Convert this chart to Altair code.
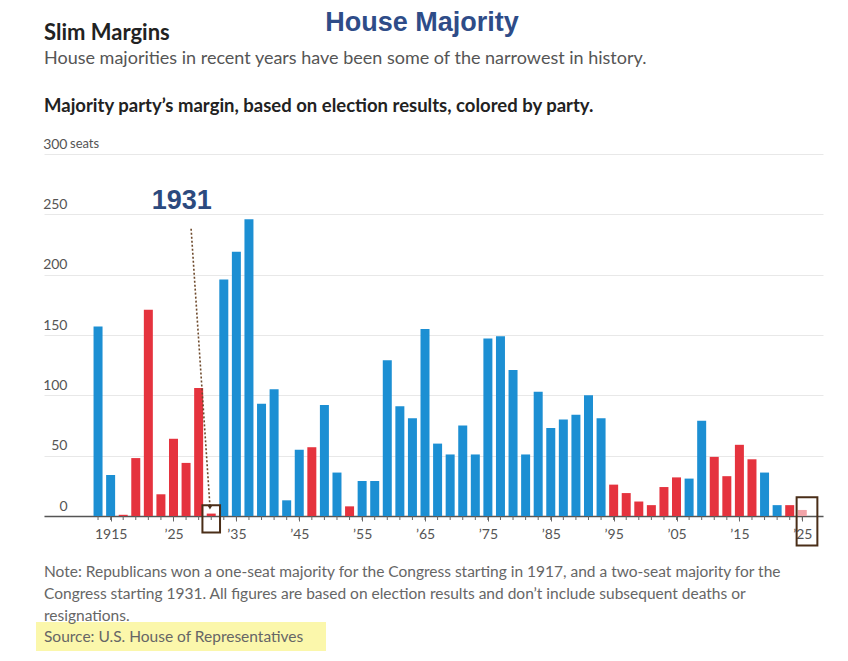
import altair as alt
import pandas as pd

# ---------------- data ----------------
years = [1913, 1915, 1917, 1919, 1921, 1923, 1925, 1927, 1929, 1931,
         1933, 1935, 1937, 1939, 1941, 1943, 1945, 1947, 1949, 1951,
         1953, 1955, 1957, 1959, 1961, 1963, 1965, 1967, 1969, 1971,
         1973, 1975, 1977, 1979, 1981, 1983, 1985, 1987, 1989, 1991,
         1993, 1995, 1997, 1999, 2001, 2003, 2005, 2007, 2009, 2011,
         2013, 2015, 2017, 2019, 2021, 2023, 2025]
margins = [157, 34, 1, 48, 171, 18, 64, 44, 106, 2,
           196, 219, 246, 93, 105, 13, 55, 57, 92, 36,
           8, 29, 29, 129, 91, 81, 155, 60, 51, 75,
           51, 147, 149, 121, 51, 103, 73, 80, 84, 100,
           81, 26, 19, 12, 9, 24, 32, 31, 79, 49,
           33, 59, 47, 36, 9, 9, 5]
party = (["D", "D"] + ["R"] * 8 + ["D"] * 7 + ["R", "D", "D", "R"] + ["D"] * 20
         + ["R"] * 6 + ["D", "D"] + ["R"] * 4 + ["D", "D", "R", "R*"])
party_names = ["D", "R", "R*"]
party_colors = ["#1c8fd3", "#e5333e", "#f2a5aa"]

y_ticks = [0, 50, 100, 150, 200, 250, 300]
x_label_years = [1915, 1925, 1935, 1945, 1955, 1965, 1975, 1985, 1995, 2005, 2015, 2025]

title_main = "House Majority"
title_left = "Slim Margins"
subtitle = "House majorities in recent years have been some of the narrowest in history."
chart_sub = "Majority party\u2019s margin, based on election results, colored by party."
note_lines = [
    "Note: Republicans won a one-seat majority for the Congress starting in 1917, and a two-seat majority for the",
    "Congress starting 1931. All figures are based on election results and don\u2019t include subsequent deaths or",
    "resignations.",
]
source = "Source: U.S. House of Representatives"

df = pd.DataFrame({"year": years, "margin": margins, "party": party})

FONT = "Lato"
W, H = 779, 362

xscale = alt.Scale(domain=[1905.2, 2027.5], nice=False, zero=False)
yscale = alt.Scale(domain=[0, 300], nice=False)

label_expr = "datum.value == 1915 ? '1915' : '\u2019' + substring(toString(datum.value), 2, 4)"

bars = alt.Chart(df).mark_bar(size=9).encode(
    x=alt.X("year:Q", scale=xscale, title=None,
            axis=alt.Axis(values=x_label_years, labelExpr=label_expr, labelOverlap=False,
                          labelFlush=False, tickSize=5, tickColor="#666", tickWidth=1,
                          domainColor="#555", domainWidth=1.5, labelColor="#555",
                          labelFont=FONT, labelFontSize=14, labelPadding=6, grid=False)),
    y=alt.Y("margin:Q", scale=yscale, title=None,
            axis=alt.Axis(values=y_ticks, labelExpr="datum.value == 300 ? '300' : datum.label",
                          labelAlign="right", labelBaseline="bottom", labelPadding=-23,
                          labelOffset=-3, tickSize=0, ticks=False, domain=False,
                          gridColor="#e8e8e8", gridWidth=1, labelColor="#555",
                          labelFont=FONT, labelFontSize=14)),
    color=alt.Color("party:N", scale=alt.Scale(domain=party_names, range=party_colors), legend=None),
)

# small ticks under every bar
minor_ticks = alt.Chart(df).mark_rule(color="#666", strokeWidth=1).encode(
    x=alt.X("year:Q", scale=xscale), y=alt.value(H), y2=alt.value(H + 4))


def one():
    return alt.Chart(alt.Data(values=[{"k": 0}]))


def txt(s, x, y, size, color="#222", weight="normal", font=FONT, align="left", baseline="alphabetic"):
    return one().mark_text(text=s, font=font, fontSize=size, fontWeight=weight, color=color,
                           align=align, baseline=baseline).encode(x=alt.value(x), y=alt.value(y))


seats = one().mark_text(text="seats", font=FONT, fontSize=13, color="#555", align="left",
                        baseline="bottom", dy=-3).encode(x=alt.value(26), y=alt.datum(300))

# annotation: 1931
ann_text = one().mark_text(text="1931", font="Liberation Sans", fontSize=27, fontWeight="bold",
                           color="#2c4a7e", baseline="middle").encode(
    x=alt.datum(1926.3), y=alt.datum(261))
ann_line = one().mark_rule(strokeDash=[2, 2], strokeWidth=1.6, color="#6e4a2c").encode(
    x=alt.datum(1927.8), y=alt.datum(238), x2=alt.datum(1930.8), y2=alt.datum(8))
ann_arrow = one().mark_point(shape="triangle-down", filled=True, size=22, color="#4a3220", opacity=1).encode(
    x=alt.datum(1930.8), y=alt.datum(7))
box1931 = one().mark_rect(fillOpacity=0, stroke="#4a2e18", strokeWidth=2).encode(
    x=alt.datum(1929.6), x2=alt.datum(1932.4), y=alt.datum(8.9), y2=alt.datum(-13.6))
box2025 = one().mark_rect(fillOpacity=0, stroke="#4a2e18", strokeWidth=2).encode(
    x=alt.datum(2024.1), x2=alt.datum(2027.4), y=alt.datum(15.6), y2=alt.datum(-24.4))

highlight = one().mark_rect(color="#fbf7a6", opacity=0.95).encode(
    x=alt.value(-8), x2=alt.value(282), y=alt.value(468), y2=alt.value(497))

texts = [
    txt(title_main, 378, -123, 27, color="#2e4c88", weight="bold", font="Liberation Sans", align="center"),
    txt(title_left, 0, -114, 22, color="#222", weight="bold"),
    txt(subtitle, 0, -90, 18, color="#555"),
    txt(chart_sub, 0, -42, 18.5, color="#222", weight="bold"),
    txt(note_lines[0], 0, 423, 15.5, color="#666"),
    txt(note_lines[1], 0, 445, 15.5, color="#666"),
    txt(note_lines[2], 0, 467, 15.5, color="#666"),
]
src = txt(source, 0, 488, 15.5, color="#666")

chart = alt.layer(
    bars, minor_ticks, seats, ann_line, ann_arrow, ann_text, box1931, box2025, highlight, *texts, src
).properties(
    width=W, height=H,
    autosize=alt.AutoSizeParams(type="none"),
    padding={"left": 36, "top": 146, "right": 12, "bottom": 140},
).configure(background="white").configure_view(stroke=None)

chart.save("out.html", embed_options={"renderer": "svg", "actions": False})
